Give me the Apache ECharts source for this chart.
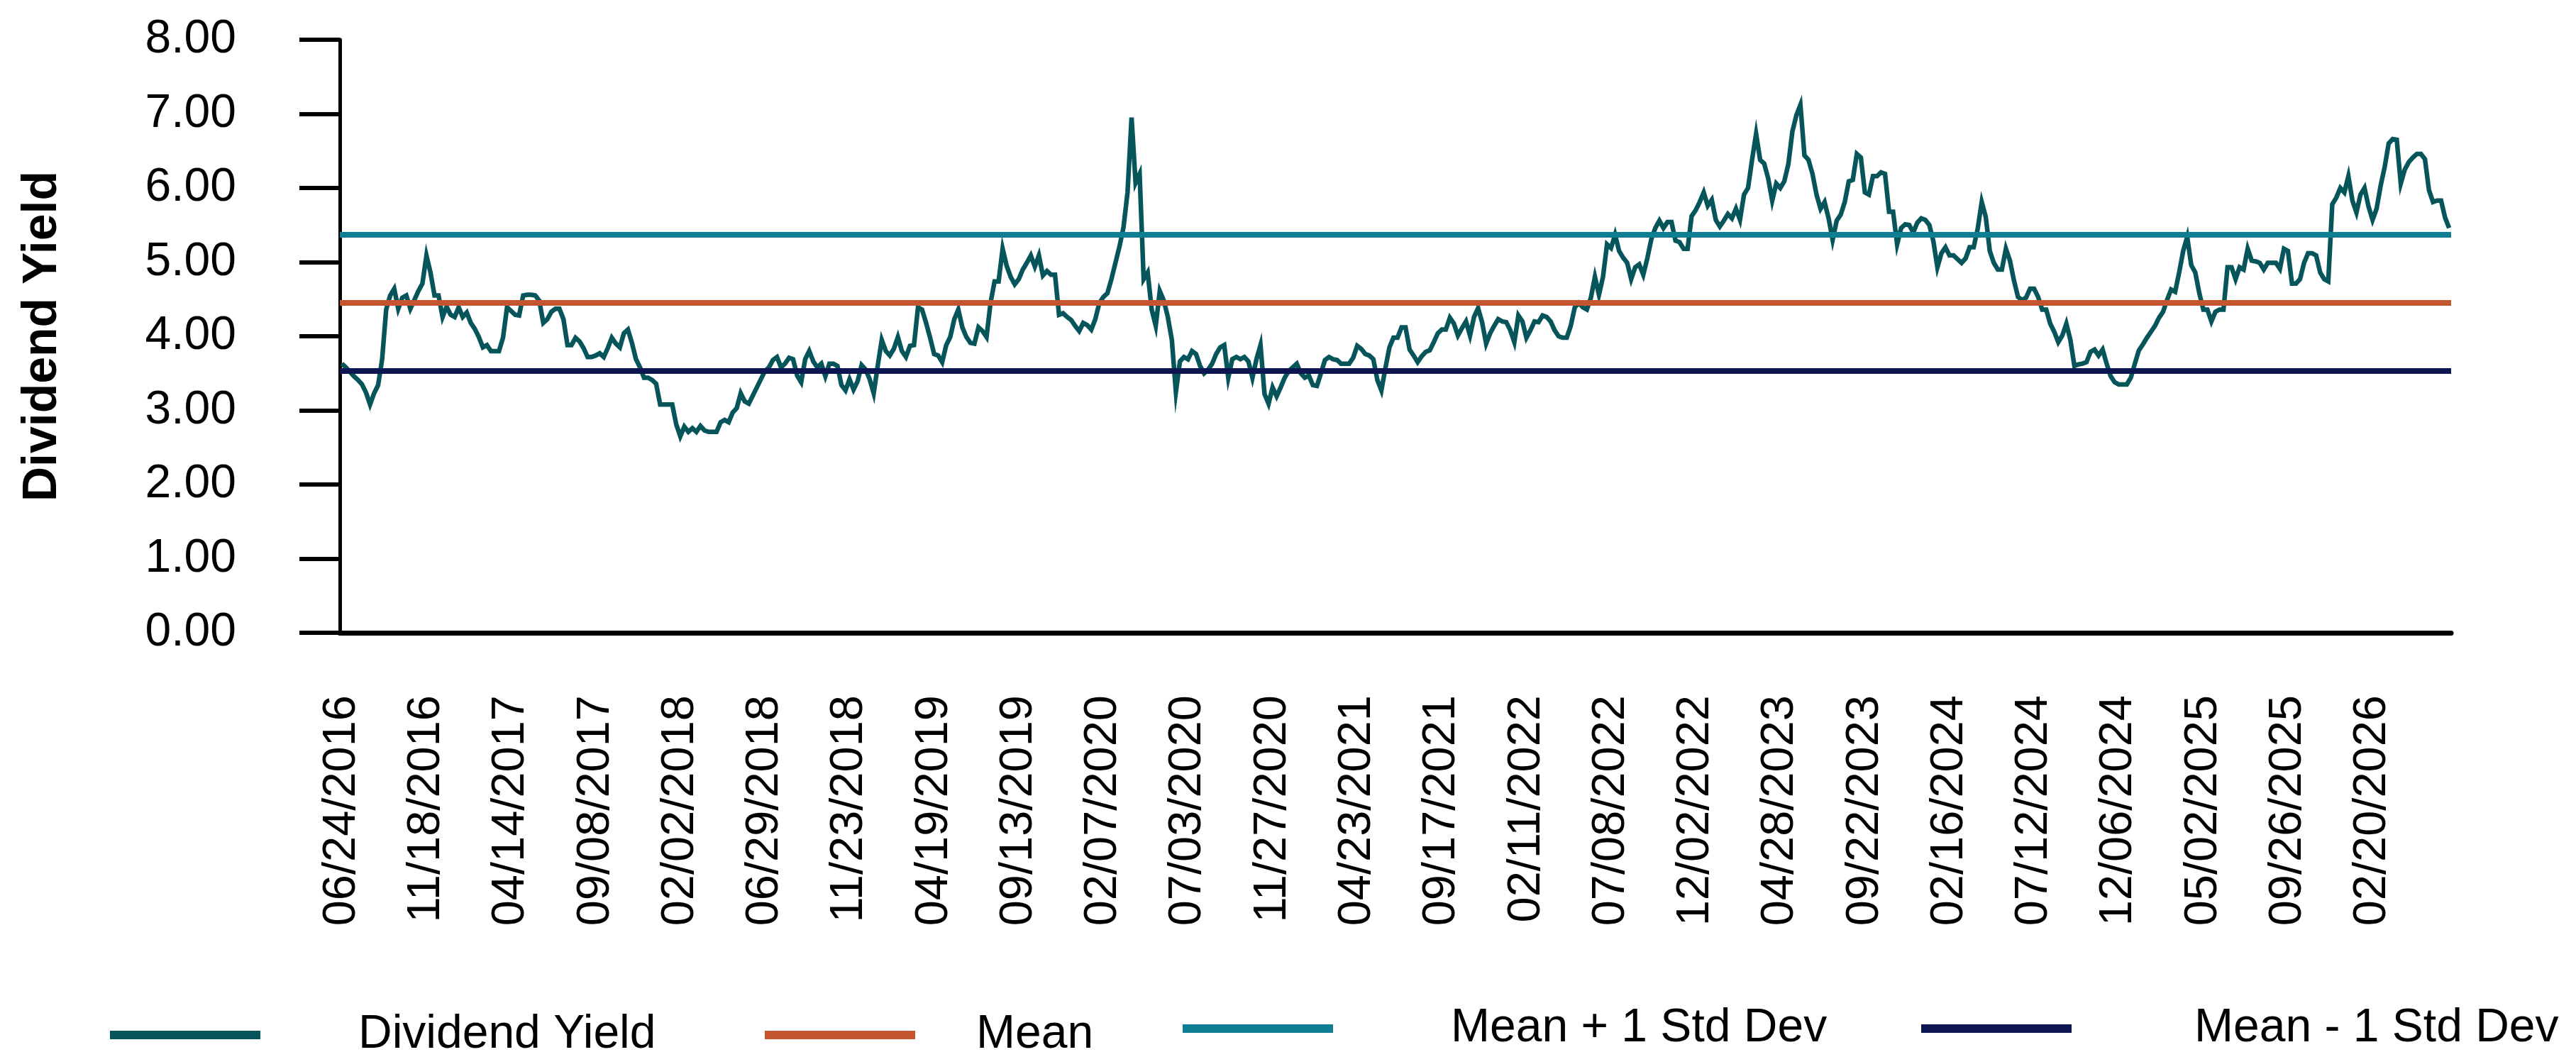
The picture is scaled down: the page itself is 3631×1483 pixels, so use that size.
<!DOCTYPE html>
<html>
<head>
<meta charset="utf-8">
<script src="https://cdn.jsdelivr.net/npm/echarts@6/dist/echarts.min.js"></script>
<style>
html,body{margin:0;padding:0;background:#fff;}
#chart{width:3631px;height:1483px;}
</style>
</head>
<body>
<div id="chart"></div>
<script>
// Weekly observations (Fridays) starting 06/24/2016
const firstWeek = '2016-06-24';

const tickLabels = ['06/24/2016','11/18/2016','04/14/2017','09/08/2017','02/02/2018','06/29/2018',
  '11/23/2018','04/19/2019','09/13/2019','02/07/2020','07/03/2020','11/27/2020','04/23/2021',
  '09/17/2021','02/11/2022','07/08/2022','12/02/2022','04/28/2023','09/22/2023','02/16/2024',
  '07/12/2024','12/06/2024','05/02/2025','09/26/2025','02/20/2026'];

const dividendYield = [
3.63,3.58,3.52,3.46,3.41,3.35,3.24,3.08,3.23,3.34,3.69,4.36,4.55,4.64,4.37,4.52,4.55,4.37,4.49,4.61,
4.71,5.09,4.86,4.55,4.55,4.26,4.40,4.29,4.26,4.39,4.26,4.32,4.18,4.10,3.99,3.85,3.88,3.80,3.80,3.80,
3.98,4.39,4.34,4.29,4.28,4.55,4.56,4.56,4.55,4.48,4.18,4.23,4.33,4.37,4.37,4.23,3.88,3.88,3.98,3.93,
3.84,3.72,3.72,3.74,3.77,3.72,3.84,3.98,3.90,3.85,4.04,4.09,3.91,3.69,3.58,3.44,3.44,3.41,3.36,3.08,
3.08,3.08,3.08,2.81,2.65,2.78,2.71,2.76,2.71,2.79,2.73,2.71,2.71,2.71,2.84,2.87,2.84,2.97,3.03,3.23,
3.12,3.09,3.20,3.31,3.42,3.53,3.58,3.68,3.72,3.58,3.63,3.71,3.69,3.47,3.38,3.69,3.80,3.66,3.58,3.63,
3.46,3.63,3.63,3.60,3.34,3.27,3.42,3.28,3.39,3.61,3.55,3.42,3.23,3.60,3.95,3.80,3.74,3.83,3.99,3.80,
3.72,3.87,3.88,4.39,4.36,4.18,3.98,3.76,3.74,3.65,3.88,3.99,4.23,4.36,4.12,3.99,3.91,3.90,4.12,4.07,
3.99,4.45,4.74,4.74,5.18,4.95,4.80,4.70,4.77,4.90,4.99,5.09,4.94,5.09,4.82,4.88,4.83,4.83,4.29,4.31,
4.26,4.22,4.14,4.07,4.18,4.15,4.09,4.23,4.45,4.53,4.58,4.77,4.99,5.21,5.47,5.94,6.95,6.07,6.19,4.77,
4.86,4.36,4.14,4.61,4.48,4.26,3.95,3.25,3.66,3.72,3.69,3.80,3.76,3.60,3.50,3.55,3.63,3.76,3.85,3.88,
3.44,3.69,3.72,3.69,3.72,3.66,3.44,3.69,3.88,3.22,3.09,3.31,3.19,3.31,3.44,3.53,3.58,3.63,3.50,3.44,
3.47,3.34,3.33,3.50,3.68,3.72,3.69,3.68,3.63,3.63,3.63,3.71,3.87,3.83,3.76,3.74,3.69,3.41,3.27,3.57,
3.85,3.98,3.98,4.12,4.12,3.82,3.74,3.65,3.73,3.79,3.81,3.92,4.04,4.09,4.09,4.25,4.17,4.01,4.11,4.20,
4.01,4.26,4.38,4.19,3.90,4.04,4.14,4.23,4.20,4.19,4.08,3.92,4.28,4.20,3.98,4.08,4.20,4.19,4.28,4.26,
4.20,4.08,4.00,3.98,3.98,4.14,4.39,4.45,4.39,4.36,4.52,4.80,4.56,4.80,5.24,5.19,5.37,5.15,5.06,4.99,
4.77,4.93,4.97,4.83,5.05,5.31,5.46,5.56,5.46,5.54,5.54,5.29,5.27,5.18,5.18,5.62,5.70,5.81,5.94,5.76,
5.84,5.57,5.48,5.56,5.65,5.59,5.72,5.57,5.91,6.00,6.38,6.73,6.38,6.33,6.13,5.83,6.06,6.00,6.09,6.32,
6.76,6.98,7.12,6.44,6.38,6.19,5.91,5.72,5.81,5.59,5.30,5.56,5.64,5.81,6.09,6.11,6.46,6.41,5.94,5.91,
6.16,6.16,6.21,6.19,5.68,5.68,5.24,5.46,5.51,5.50,5.40,5.53,5.59,5.57,5.50,5.28,4.93,5.12,5.20,5.09,
5.09,5.04,4.99,5.05,5.20,5.20,5.45,5.81,5.61,5.15,4.99,4.90,4.90,5.18,5.02,4.75,4.53,4.49,4.52,4.64,
4.64,4.53,4.36,4.36,4.17,4.06,3.92,4.01,4.17,3.95,3.60,3.62,3.63,3.65,3.79,3.82,3.74,3.82,3.63,3.46,
3.38,3.35,3.35,3.35,3.44,3.63,3.81,3.89,3.98,4.06,4.14,4.25,4.33,4.49,4.63,4.60,4.86,5.15,5.34,4.96,
4.86,4.58,4.36,4.36,4.20,4.33,4.36,4.36,4.93,4.93,4.77,4.93,4.90,5.18,5.02,5.01,4.99,4.90,4.99,4.99,
4.99,4.91,5.18,5.15,4.71,4.71,4.77,4.99,5.12,5.12,5.09,4.86,4.77,4.74,5.78,5.87,6.00,5.94,6.16,5.83,
5.67,5.91,6.00,5.75,5.57,5.72,6.03,6.28,6.60,6.66,6.65,6.06,6.25,6.35,6.41,6.46,6.46,6.39,5.97,5.81,
5.83,5.83,5.60,5.46
];

const meanValue = 4.45;
const meanPlusSd = 5.37;
const meanMinusSd = 3.53;

const seriesNames = ['Dividend Yield','Mean','Mean + 1 Std Dev','Mean - 1 Std Dev'];
const seriesColors = ['#06555A','#C4552F','#0F7E92','#0D1650'];

// weekly category dates
function fmt(d){
  const m = String(d.getUTCMonth()+1).padStart(2,'0');
  const day = String(d.getUTCDate()).padStart(2,'0');
  return m + '/' + day + '/' + d.getUTCFullYear();
}
const categories = [];
{
  const t0 = Date.parse(firstWeek + 'T00:00:00Z');
  for (let i = 0; i < dividendYield.length; i++) {
    categories.push(fmt(new Date(t0 + i * 7 * 86400000)));
  }
}

const FONT = "'Liberation Sans', Arial, sans-serif";
const chart = echarts.init(document.getElementById('chart'), null, {renderer:'canvas'});

function refLine(name, color, value){
  return {
    name: name, type: 'line', data: [], color: color, z: 5,
    lineStyle: {color: color, width: 8},
    itemStyle: {color: color},
    markLine: {
      silent: true, symbol: ['none','none'], animation: false,
      label: {show: false},
      lineStyle: {color: color, width: 8, type: 'solid'},
      emphasis: {disabled: true},
      data: [{yAxis: value}]
    }
  };
}

function legendItem(name, left, top, pad){
  return {
    data: [name], left: left, top: top, orient: 'horizontal',
    icon: 'rect', itemWidth: 212, itemHeight: 12, selectedMode: false,
    textStyle: {fontFamily: FONT, fontSize: 66, color: '#000', padding: [0,0,0,pad], lineHeight: 66}
  };
}

chart.setOption({
  animation: false,
  backgroundColor: '#fff',
  grid: {left: 479, right: 176, top: 56, bottom: 591, containLabel: false},
  legend: [
    legendItem(seriesNames[0], 150, 1421, 133),
    legendItem(seriesNames[1], 1073, 1421, 81),
    legendItem(seriesNames[2], 1662, 1412, 161),
    legendItem(seriesNames[3], 2703, 1412, 168)
  ],
  xAxis: {
    type: 'category', data: categories, boundaryGap: true,
    axisLine: {show: true, lineStyle: {color: '#000', width: 7}},
    axisTick: {show: false},
    splitLine: {show: false},
    axisLabel: {
      rotate: 90, margin: 88, fontFamily: FONT, fontSize: 65, color: '#000',
      interval: function(idx, val){ return tickLabels.indexOf(val) >= 0; }
    }
  },
  yAxis: {
    type: 'value', min: 0, max: 8, interval: 1,
    name: 'Dividend Yield', nameLocation: 'middle', nameGap: 385,
    nameTextStyle: {fontFamily: FONT, fontSize: 68, fontWeight: 'bold', color: '#000'},
    axisLine: {show: true, lineStyle: {color: '#000', width: 5}},
    axisTick: {show: true, length: 57, lineStyle: {color: '#000', width: 6}},
    splitLine: {show: false},
    axisLabel: {
      margin: 146, fontFamily: FONT, fontSize: 66, color: '#000',
      formatter: function(v){ return v.toFixed(2); }
    }
  },
  series: [
    {
      name: seriesNames[0], type: 'line', data: dividendYield, color: seriesColors[0],
      symbol: 'none', showSymbol: false, z: 2,
      lineStyle: {color: seriesColors[0], width: 6.5, join: 'miter'},
      itemStyle: {color: seriesColors[0]}
    },
    refLine(seriesNames[1], seriesColors[1], meanValue),
    refLine(seriesNames[2], seriesColors[2], meanPlusSd),
    refLine(seriesNames[3], seriesColors[3], meanMinusSd)
  ]
});
</script>
</body>
</html>
